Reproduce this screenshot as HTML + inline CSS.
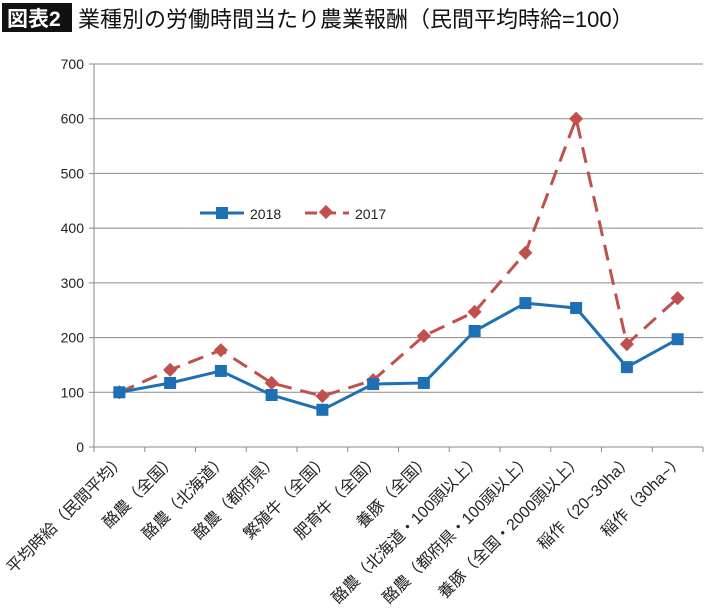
<!DOCTYPE html>
<html><head><meta charset="utf-8"><style>
body{margin:0;background:#fff;}
svg{display:block;font-family:"Liberation Sans","Noto Sans CJK JP",sans-serif;}
</style></head><body>
<svg id="c" width="710" height="611" xmlns="http://www.w3.org/2000/svg">
<rect x="2" y="3" width="70" height="29" fill="#111"/>
<text x="7" y="26" fill="#fff" font-size="21" font-weight="bold">図表2</text>
<text x="78" y="27" fill="#111" font-size="22">業種別の労働時間当たり農業報酬（民間平均時給=100）</text>
<g id="grid"></g><g id="axes"></g><g id="marks"></g>
<g>
<line x1="200" y1="213" x2="244" y2="213" stroke="#1f6fb4" stroke-width="3"/>
<rect x="216" y="207" width="12" height="12" fill="#1f6fb4"/>
<text x="250" y="219" font-size="14" fill="#222">2018</text>
<line x1="305" y1="213" x2="349" y2="213" stroke="#c0504d" stroke-width="3" stroke-dasharray="12,7"/>
<rect x="321" y="207" width="10" height="10" fill="#c0504d" transform="rotate(45 326 212)"/>
<text x="355" y="219" font-size="14" fill="#222">2017</text>
</g>
</svg>
<script>
const categories=["平均時給（民間平均）","酪農（全国）","酪農（北海道）","酪農（都府県）","繁殖牛（全国）","肥育牛（全国）","養豚（全国）","酪農（北海道・100頭以上）","酪農（都府県・100頭以上）","養豚（全国・2000頭以上）","稲作（20~30ha）","稲作（30ha~）"];
const s2018=[100,117,139,95,68,115,117,212,263,254,146,197];
const s2017=[100,141,177,117,93,122,203,247,355,600,188,272];
const yTicks=[0,100,200,300,400,500,600,700];
const NS="http://www.w3.org/2000/svg";
const L=94,R=703,T=64,B=447,MAX=700;
const bw=(R-L)/categories.length;
const xS=i=>L+bw*(i+0.5);
const yS=v=>B-(v/MAX)*(B-T);
function mk(tag,attrs,parent){const e=document.createElementNS(NS,tag);for(const k in attrs)e.setAttribute(k,attrs[k]);parent.appendChild(e);return e;}
const grid=document.getElementById('grid'),axes=document.getElementById('axes'),marks=document.getElementById('marks');
yTicks.forEach(v=>{
 const l=mk('line',{x1:L,x2:R,y1:yS(v),y2:yS(v),stroke:'#8a8a8a','stroke-width':1},grid);
 
 
 const t=mk('text',{x:L-10,y:yS(v)+5,'text-anchor':'end','font-size':14,fill:'#222'},axes);
 t.textContent=v;
 
 
 mk('line',{x1:L-5,x2:L,y1:yS(v),y2:yS(v),stroke:'#8a8a8a'},axes);
});
const ya=mk('line',{x1:L,x2:L,y1:T,y2:B,stroke:'#8a8a8a'},axes);


for(let i=0;i<=categories.length;i++)mk('line',{x1:L+bw*i,x2:L+bw*i,y1:B,y2:B+5,stroke:'#8a8a8a'},axes);
categories.forEach((c,i)=>{
 const x=xS(i)+7,y=B+14;
 const t=mk('text',{x:x,y:y,'text-anchor':'end','font-size':16,fill:'#222',transform:`rotate(-45 ${x} ${y})`},axes);
 t.textContent=c;
 
 
});
function series(data,color,dash,name,marker){
 const p=mk('polyline',{points:data.map((v,i)=>xS(i)+','+yS(v)).join(' '),fill:'none',stroke:color,'stroke-width':3,'stroke-dasharray':dash,'stroke-linejoin':'round'},marks);
 
 
 data.forEach((v,i)=>{
  let m;
  if(marker==='sq')m=mk('rect',{x:xS(i)-6,y:yS(v)-6,width:12,height:12,fill:color},marks);
  else m=mk('rect',{x:xS(i)-5,y:yS(v)-5,width:10,height:10,fill:color,transform:`rotate(45 ${xS(i)} ${yS(v)})`},marks);
  
  
 });
}
series(s2017,'#c0504d','16,9','2017','dia');
series(s2018,'#1f6fb4','none','2018','sq');
</script>
</body></html>
